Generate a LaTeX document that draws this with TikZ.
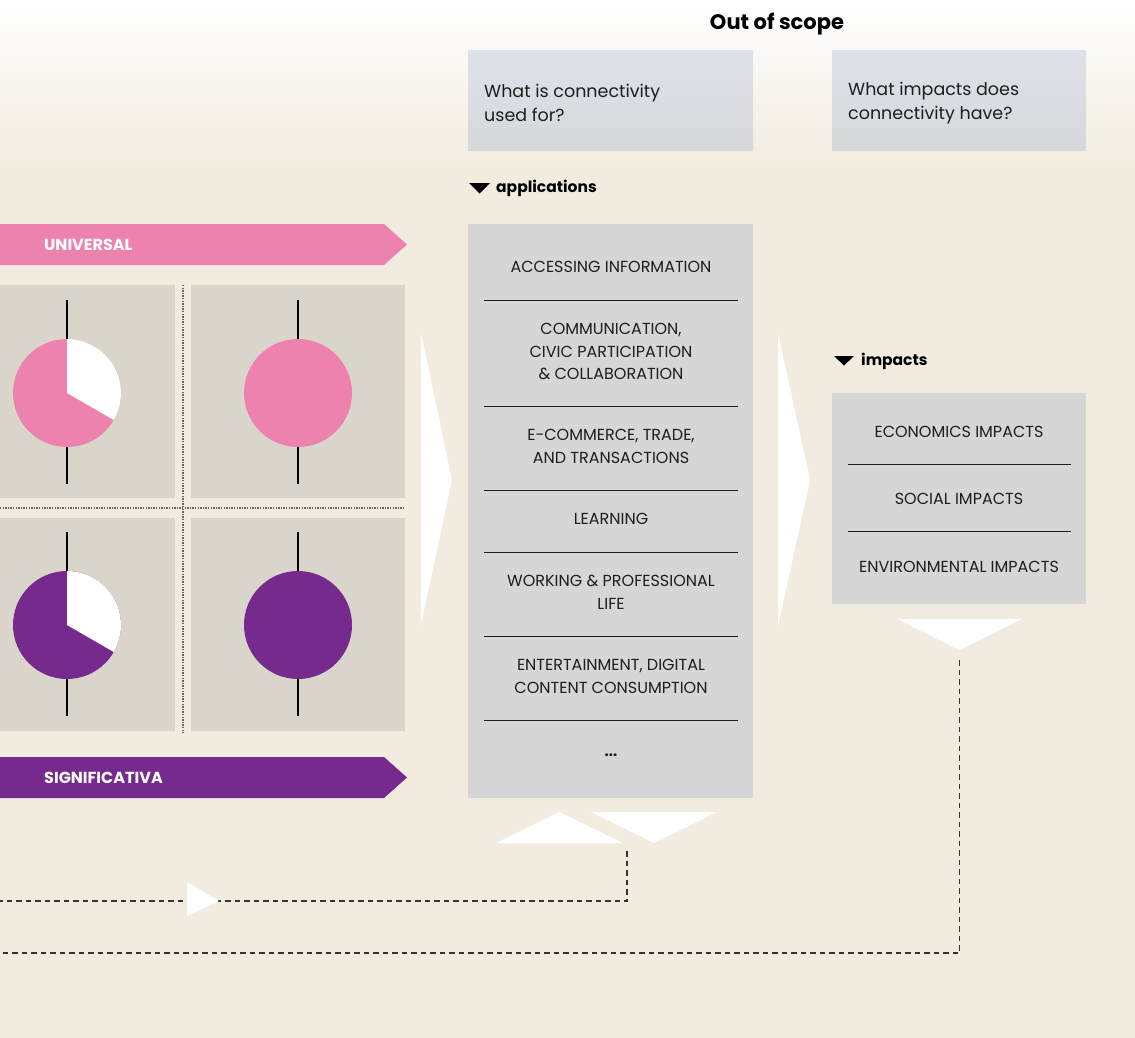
\documentclass[tikz,border=0pt]{standalone}
\usepackage{fontspec}
\setmainfont{Poppins}
\definecolor{beige}{RGB}{242,236,224}
\definecolor{pinkc}{RGB}{238,130,174}
\definecolor{purplec}{RGB}{118,42,142}
\definecolor{gridbox}{RGB}{217,213,202}
\definecolor{appbox}{RGB}{214,214,214}
\definecolor{qtop}{RGB}{221,225,233}
\definecolor{qbot}{RGB}{215,216,218}
\definecolor{txt}{RGB}{30,30,30}
\tikzset{
  item/.style={align=center,text=txt,font=\fontsize{16}{22.5}\selectfont,inner sep=0pt},
  sepline/.style={draw=txt,line width=1pt},
  qbox/.style={top color=qtop,bottom color=qbot,draw=none},
  qtext/.style={align=left,anchor=west,text=txt,font=\fontsize{17.5}{24}\selectfont,inner sep=0pt},
  head/.style={anchor=west,text=black,font=\fontsize{15.5}{18}\selectfont\bfseries,inner sep=0pt},
  bantext/.style={anchor=west,text=white,font=\fontsize{16}{18}\selectfont\bfseries,inner sep=0pt},
  whitearrow/.style={fill=white,draw=none},
  fb/.style={draw=black!80,line width=1.2pt,dash pattern=on 5.5pt off 4pt},
  axisline/.style={draw=black,line width=1.2pt},
  dotline/.style={draw=black!60,line width=1.4pt,dash pattern=on 1.4pt off 1.2pt}
}
\begin{document}
\begin{tikzpicture}[x=1pt,y=-1pt]
\useasboundingbox (0,0) rectangle (1135,1038);
% background
\fill[beige] (0,0) rectangle (1135,1038);
\shade[top color=white,bottom color=beige,draw=none] (0,0) rectangle (1135,165);

% Out of scope
\node[font=\fontsize{21}{24}\selectfont\bfseries,text=black,inner sep=0pt] (oos) at (777,24) {Out of scope};
\path[qbox] (468,51) rectangle (753,151);
\node[qtext] (q1) at (484,103) {What is connectivity\\used for?};
\path[qbox] (832,51) rectangle (1086,151);
\node[qtext] (q2) at (848,103) {What impacts does\\connectivity have?};

% applications heading
\fill[black] (469,183) -- (490,183) -- (479.5,193.5) -- cycle;
\node[head] (apph) at (496,188.5) {applications};

% applications box
\node[fill=appbox,minimum width=285pt,minimum height=574pt,inner sep=0pt,anchor=north west] (apps) at (468,224) {};
\foreach \yy in {300,406,490,552,636,720}{\draw[sepline] (484,\yy) -- (738,\yy);}
\node[item] (a1) at (611,267) {ACCESSING INFORMATION};
\node[item] (a2) at (611,351.5) {COMMUNICATION,\\CIVIC PARTICIPATION\\\& COLLABORATION};
\node[item] (a3) at (611,446.5) {E-COMMERCE, TRADE,\\AND TRANSACTIONS};
\node[item] (a4) at (611,519) {LEARNING};
\node[item] (a5) at (611,592.5) {WORKING \& PROFESSIONAL\\LIFE};
\node[item] (a6) at (611,676.5) {ENTERTAINMENT, DIGITAL\\CONTENT CONSUMPTION};
\node[item,font=\fontsize{15}{17}\selectfont\bfseries] (a7) at (611,755) {...};

% impacts heading
\fill[black] (834,356) -- (854,356) -- (844,365.5) -- cycle;
\node[head] (imph) at (861,361) {impacts};

% impacts box
\node[fill=appbox,minimum width=254pt,minimum height=211pt,inner sep=0pt,anchor=north west] (imps) at (832,393) {};
\foreach \yy in {464,531}{\draw[sepline] (848,\yy) -- (1071,\yy);}
\node[item] (i1) at (959,432) {ECONOMICS IMPACTS};
\node[item] (i2) at (959,499) {SOCIAL IMPACTS};
\node[item] (i3) at (959,567) {ENVIRONMENTAL IMPACTS};

% banners
\fill[pinkc] (0,224) -- (384,224) -- (407,244.5) -- (384,265) -- (0,265) -- cycle;
\node[bantext] (uni) at (44,244.5) {UNIVERSAL};
\fill[purplec] (0,757) -- (384,757) -- (407,777.5) -- (384,798) -- (0,798) -- cycle;
\node[bantext] (sig) at (44,777.5) {SIGNIFICATIVA};

% grid boxes
\fill[gridbox] (0,285) rectangle (175,498);
\fill[gridbox] (191,285) rectangle (405,498);
\fill[gridbox] (0,518) rectangle (175,731);
\fill[gridbox] (191,518) rectangle (405,731);
\draw[dotline] (183,285) -- (183,733);
\draw[dotline] (0,508) -- (405,508);

% pies
\foreach \cx/\cy/\col/\part in {67/393/pinkc/1,298/393/pinkc/0,67/625/purplec/1,298/625/purplec/0}{
  \draw[axisline] (\cx,\cy-93) -- (\cx,\cy+91);
  \fill[\col] (\cx,\cy) circle[radius=54];
  \ifnum\part=1
    \fill[white] (\cx,\cy) -- ++(-90:54) arc[start angle=-90,end angle=30,radius=54] -- cycle;
  \fi
}

% big white arrows
\fill[whitearrow] (421,333) -- (452,480) -- (421,625) -- cycle;
\fill[whitearrow] (778,333) -- (810,480) -- (778,626) -- cycle;
% impacts down arrow
\fill[whitearrow] (897,619) -- (1022,619) -- (959.5,650) -- cycle;
% apps up / down arrows
\fill[whitearrow] (496,843) -- (623,843) -- (559.5,812) -- cycle;
\fill[whitearrow] (591,812) -- (717,812) -- (654,843) -- cycle;

% feedback dashed lines
\coordinate (f1a) at (627,851);
\coordinate (f1b) at (627,901);
\coordinate (f1c) at (0,901);
\draw[fb] (f1a) -- (f1b) -- (f1c);
\fill[whitearrow] (187,882) -- (219,901) -- (187,916) -- cycle;
\coordinate (f2a) at (959.5,660);
\coordinate (f2b) at (959.5,953);
\coordinate (f2c) at (0,953);
\draw[fb] (f2a) -- (f2b) -- (f2c);
\end{tikzpicture}
\end{document}
